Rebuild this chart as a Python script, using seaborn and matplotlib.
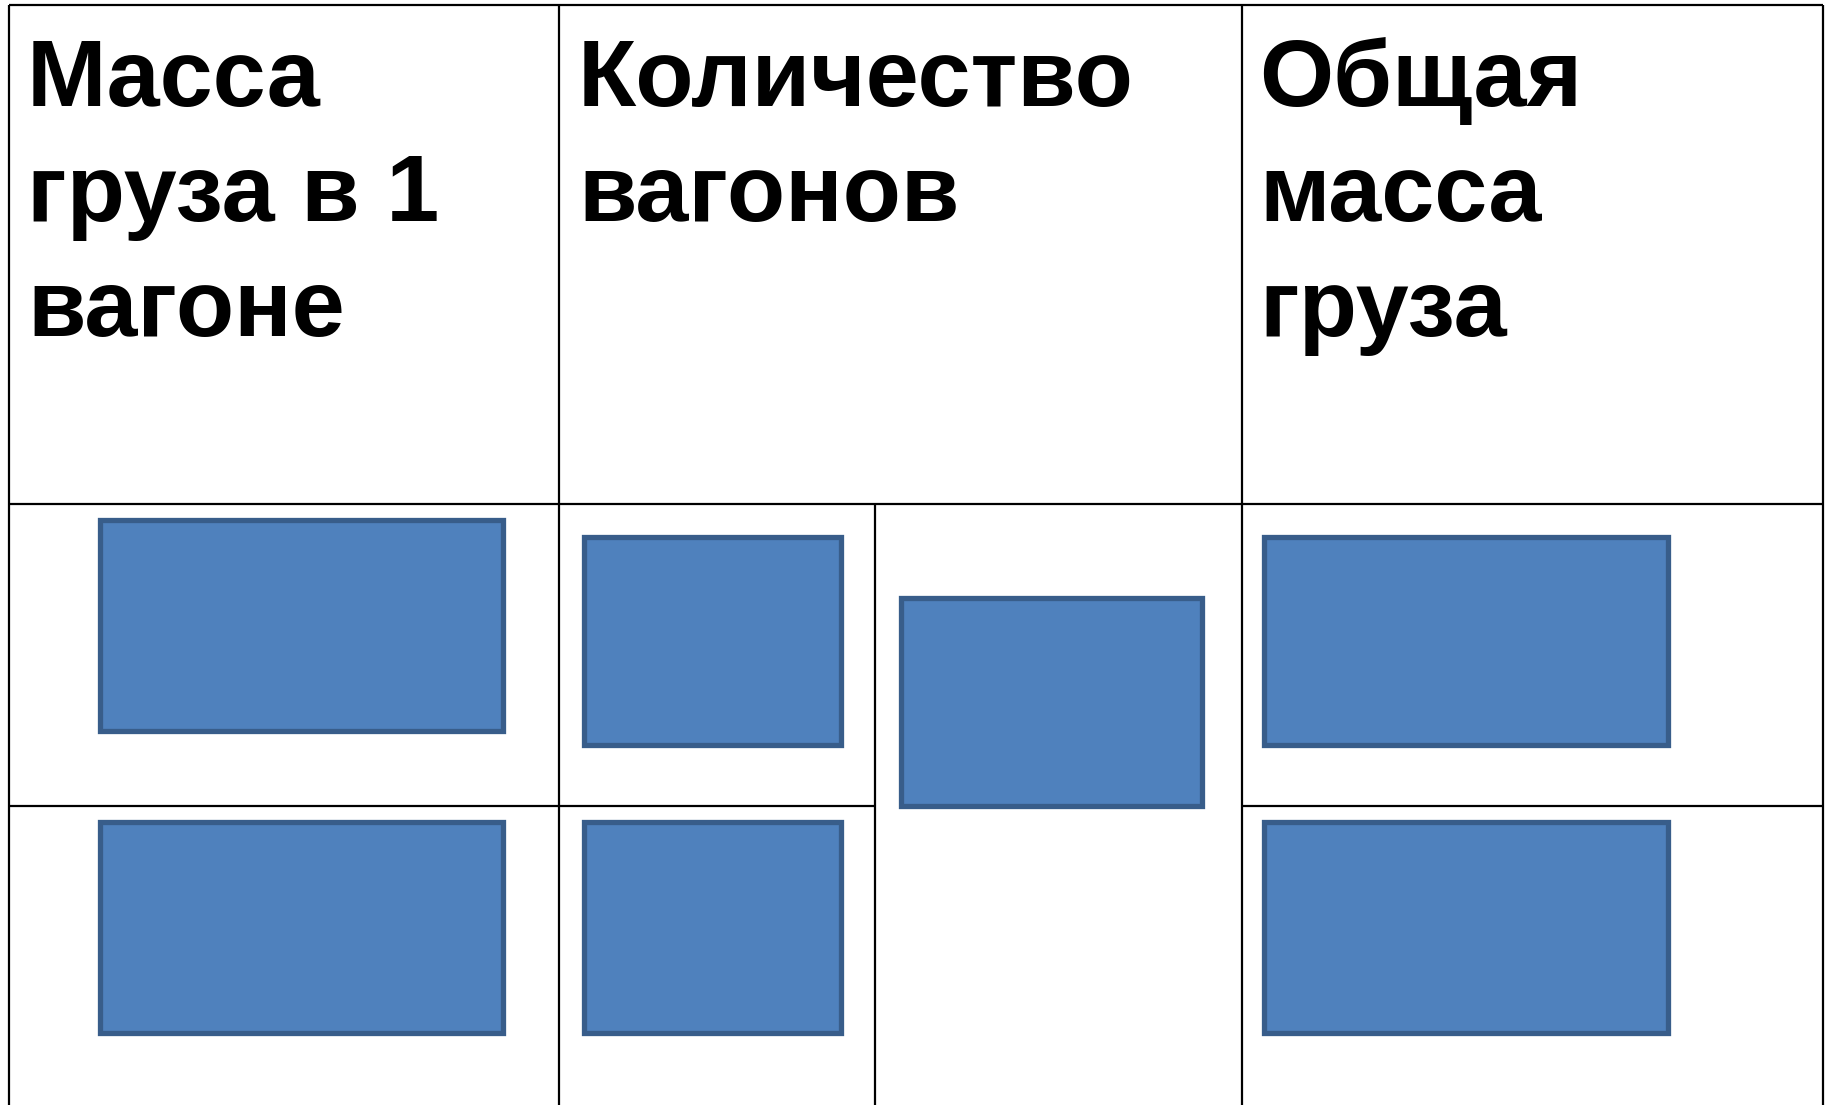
import matplotlib
matplotlib.use("Agg")
import matplotlib.pyplot as plt
import seaborn as sns

# ---- content ----
headers = [
    ["Масса", "груза в 1", "вагоне"],
    ["Количество", "вагонов"],
    ["Общая", "масса", "груза"],
]

# table grid (pixel units of the page)
col_edges = [9, 558.5, 1241.5, 1823]
sub_col_edge = 875
header_bottom = 504
row_split = 806
table_top = 5

# blank answer boxes (left, top, width, height)
box_left = [99.5, 99.5, 583.5, 583.5, 900.5, 1263.5, 1263.5]
box_top = [519.5, 821.5, 536.5, 821.5, 597.5, 536.5, 821.5]
box_width = [403, 403, 257, 257, 301, 404, 404]
box_height = [211, 211, 208, 211, 208, 208, 211]

text_x = [27, 578, 1259]
baselines = [106, 221, 336]

# ---- drawing ----
sns.set_theme(style="white")
plt.rcParams["font.family"] = ["Liberation Sans", "DejaVu Sans"]

W, H = 1832, 1105
fig = plt.figure(figsize=(W / 100, H / 100), dpi=100)
ax = fig.add_axes([0, 0, 1, 1])
ax.set_xlim(0, W)
ax.set_ylim(H, 0)
ax.axis("off")

line_kw = dict(color="black", linewidth=1.6)
ax.hlines(table_top, col_edges[0], col_edges[-1], **line_kw)
ax.hlines(header_bottom, col_edges[0], col_edges[-1], **line_kw)
ax.hlines(row_split, col_edges[0], sub_col_edge, **line_kw)
ax.hlines(row_split, col_edges[2], col_edges[3], **line_kw)
ax.vlines(col_edges, table_top, H + 5, **line_kw)
ax.vlines(sub_col_edge, header_bottom, H + 5, **line_kw)

ax.bar(box_left, box_height, width=box_width, bottom=box_top, align="edge",
       color="#4F81BD", edgecolor="#385D8A", linewidth=3.8, zorder=3)

for x, lines in zip(text_x, headers):
    for yb, t in zip(baselines, lines):
        ax.text(x, yb, t, fontsize=68.7, fontweight="bold", color="black",
                ha="left", va="baseline")

fig.savefig("out.png", dpi=100, facecolor="white")
